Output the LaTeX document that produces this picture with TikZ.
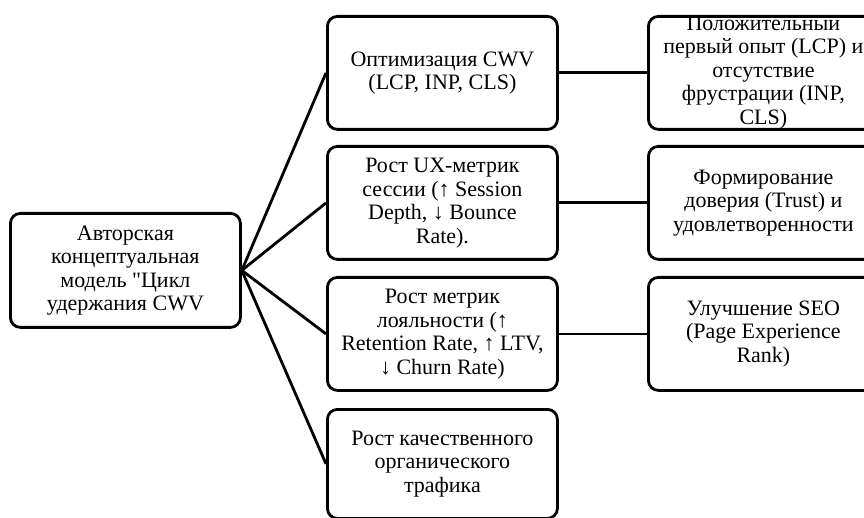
\documentclass[tikz,border=0pt]{standalone}
\usepackage{fontspec}
\setmainfont{Liberation Serif}[Ligatures=TeXOff]
\begin{document}
\begin{tikzpicture}[x=1pt,y=-1pt,
  box/.style={draw=black,line width=2.8pt,rounded corners=10pt,minimum width=230pt,minimum height=113pt,inner sep=0pt,anchor=north west,fill=white},
  txt/.style={align=center,font=\fontsize{22}{23.5}\selectfont,inner sep=0pt},
  conn/.style={line width=2.8pt}]
\useasboundingbox (0,0) rectangle (864,518);
\fill[white] (0,0) rectangle (864,518);
% left
\node[box,minimum width=230pt,minimum height=114pt] (L) at (9,212) {};
\node[txt] (Lt) at (L.center) {Авторская\\концептуальная\\модель "Цикл\\удержания CWV};
% middle
\node[box] (M1) at (326,15) {};
\node[txt] (M1t) at (M1.center) {Оптимизация CWV\\(LCP, INP, CLS)};
\node[box] (M2) at (326,145) {};
\node[txt] (M2t) at (M2.center) {Рост UX-метрик\\сессии (↑ Session\\Depth, ↓ Bounce\\Rate).};
\node[box] (M3) at (326,276) {};
\node[txt] (M3t) at (M3.center) {Рост метрик\\лояльности (↑\\Retention Rate, ↑ LTV,\\↓ Churn Rate)};
\node[box,minimum height=109pt] (M4) at (326,408) {};
\node[txt] (M4t) at (M4.center) {Рост качественного\\органического\\трафика};
% right
\node[box] (R1) at (647,15) {};
\node[txt] (R1t) at ([yshift=1pt]R1.center) {Положительный\\первый опыт (LCP) и\\отсутствие\\фрустрации (INP,\\CLS)};
\node[box] (R2) at (647,145) {};
\node[txt] (R2t) at (R2.center) {Формирование\\доверия (Trust) и\\удовлетворенности};
\node[box] (R3) at (647,276) {};
\node[txt] (R3t) at (R3.center) {Улучшение SEO\\(Page Experience\\Rank)};
% connectors
\coordinate (hub) at (L.east);
\foreach \m in {M1,M2,M3,M4} \draw[conn] (hub) -- (\m.west);
\draw[conn] (M1.east) -- (R1.west);
\draw[conn] (M2.east) -- (R2.west);
\draw[conn] (M3.east) -- (R3.west);
\end{tikzpicture}
\end{document}
